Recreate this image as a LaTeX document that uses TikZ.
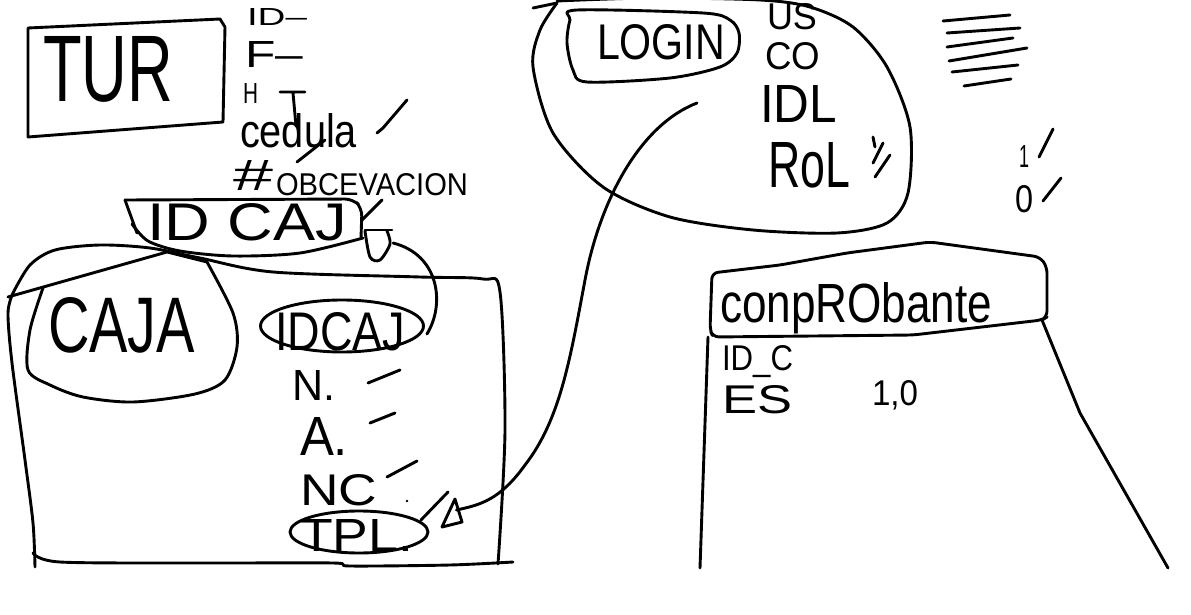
\documentclass[tikz,border=0pt]{standalone}
\usepackage{fontspec}
\setmainfont{Liberation Sans}
\usepackage{graphicx}
\usetikzlibrary{shapes.geometric}
\newcommand\hwtext[3]{\resizebox{#1pt}{#2pt}{#3}}
\begin{document}
\begin{tikzpicture}[x=1pt,y=-1pt,
  pen/.style={draw=black, line width=2.9pt, line cap=round, line join=round},
  txt/.style={inner sep=0pt, outer sep=0pt, anchor=base west},
  oval/.style={pen, ellipse, inner sep=0pt}]
\useasboundingbox (0,0) rectangle (1191,615);
\fill[white] (0,0) rectangle (1191,615);

% ---------- TUR ----------
\node[txt] (tur) at (43,102) {\hwtext{130}{65}{TUR}};
\draw[pen] (28,28) -- (220,19) -- (225,27) -- (223,122) -- (28,137) -- cycle;
\node[txt] (idf) at (247,26) {\hwtext{60}{17}{ID–}};
\node[txt] (f) at (245,68) {\hwtext{58}{26}{F–}};
\node[txt] (h) at (243,104) {\hwtext{15}{20}{H}};
\draw[pen] (280,92) -- (305,92) (293,93) -- (296,126);
\node[txt] (ced) at (240,148) {\hwtext{117}{34}{cedula}};
\draw[pen] (377,133) -- (383,128) -- (407,100);
\draw[pen] (297,162) -- (325,140);
\node[txt] (hash) at (233,190) {\hwtext{40}{30}{\#}};
\node[txt] (obs) at (276,195) {\hwtext{192}{22}{OBCEVACION}};

% ---------- ID CAJ ----------
\node[txt] (idcaj1) at (147,240) {\hwtext{200}{37}{ID CAJ}};
\draw[pen, rounded corners=8pt] (125,200) -- (353,199) -- (362,208) -- (361,238);
\draw[pen] (125,200) -- (137,233);
\draw[pen] plot[smooth] coordinates {(132,224) (148,241) (180,251) (233,256) (300,253) (363,238)};
\draw[pen] (362,220) -- (382,200);
\draw[pen] (365,230) -- (392,230);
\draw[pen] plot[smooth] coordinates {(365,231) (370,257) (380,260) (390,244) (387,231)};

% ---------- CAJA box ----------
\draw[pen] plot[smooth] coordinates {(13,293) (30,265) (55,250) (100,245) (150,248) (200,258) (273,272) (420,277) (483,279) (500,292) (505,430) (498,564)};
\draw[pen] plot[smooth] coordinates {(13,293) (8,313) (12,363) (25,460) (33,523) (35,567)};
\draw[pen] plot[smooth] coordinates {(33,553) (60,562) (200,563) (333,563) (350,566) (450,565) (513,562)};
\draw[pen] (8,297) -- (167,252) -- (207,262);
\draw[pen] plot[smooth] coordinates {(43,288) (30,330) (28,370) (50,385) (83,397) (133,402) (195,394) (225,380) (237,347) (233,313) (207,262)};
\node[txt] (caja) at (48,352) {\hwtext{147}{55}{CAJA}};

\node[oval, minimum width=163pt, minimum height=52pt] (idcajE) at (342,326) {};
\node[txt] (idcaj2) at (275,350) {\hwtext{130}{38}{IDCAJ}};
\node[txt] (n) at (292,400) {\hwtext{43}{30}{N.}};
\draw[pen] (368,383) -- (400,370);
\node[txt] (a) at (300,455) {\hwtext{48}{38}{A.}};
\draw[pen] (370,423) -- (395,413);
\node[txt] (nc) at (300,505) {\hwtext{77}{31}{NC}};
\draw[pen] (387,477) -- (417,461);
\fill (407,501) circle (1.3pt);
\node[oval, minimum width=138pt, minimum height=42pt] (tplE) at (359,532) {};
\node[txt] (tpl) at (300,551) {\hwtext{113}{32}{TPL.}};

% connector ID CAJ -> IDCAJ
\draw[pen] ([shift={(46,3)}]idcaj1.base east) .. controls (440,255) and (445,305) .. ([shift={(2,8)}]idcajE.east);

% ---------- LOGIN ----------
\draw[pen] plot[smooth cycle] coordinates {(577,10) (703,13) (730,20) (739,33) (737,53) (720,67) (670,78) (587,82) (573,70) (567,43) (570,20)};
\node[txt] (login) at (597,60) {\hwtext{128}{35}{LOGIN}};
\draw[pen] plot[smooth] coordinates {(557,1) (650,-2) (760,0) (810,7) (853,27) (887,67) (910,127) (908,193) (887,223) (837,233) (753,230) (670,217) (603,187) (553,133) (533,67) (540,30) (557,3)};
\draw[pen] (533,8) -- (557,3);
\node[txt] (us) at (767,30) {\hwtext{50}{26}{US}};
\node[txt] (co) at (765,70) {\hwtext{55}{27}{CO}};
\node[txt] (idl) at (760,123) {\hwtext{77}{37}{IDL}};
\node[txt] (rol) at (768,187) {\hwtext{82}{45}{RoL}};
\draw[pen] (873,137) -- (875,147) (883,143) -- (873,163) (890,155) -- (875,177);

% connector IDL -> TPL
\draw[pen] ([shift={(-63,-20)}]idl.base west) .. controls (640,125) and (600,200) .. (585,280)
  .. controls (570,360) and (560,420) .. (525,465)
  .. controls (500,500) and (480,505) .. ([shift={(27,-22)}]tplE.east);
\draw[pen] (455,499) -- (442,527) -- (462,522) -- cycle;
\draw[pen] (421,520) -- (448,492);

% ---------- lines / 1 0 ----------
\draw[pen] (943,21) -- (1010,15) (947,33) -- (1020,28) (947,47) -- (1013,38)
  (949,61) -- (1027,48) (952,72) -- (1018,65) (964,86) -- (1011,79);
\node[txt] (one) at (1019,167) {\hwtext{10}{22}{1}};
\draw[pen] (1039,157) -- (1053,129);
\node[txt] (zero) at (1015,212) {\hwtext{18}{27}{0}};
\draw[pen] (1043,201) -- (1061,178);

% ---------- comprobante ----------
\draw[pen, rounded corners=6pt] (712,273) -- (780,265) -- (847,253) -- (930,242) -- (1040,257) -- (1047,267) -- (1047,317) -- (1042,320) -- (913,335) -- (713,337) -- (710,330) -- cycle;
\node[txt] (comp) at (720,322) {\hwtext{272}{40}{conpRObante}};
\draw[pen] (708,337) -- (700,568);
\draw[pen] (1042,320) -- (1080,413) -- (1168,568);
\node[txt] (idc) at (722,370) {\hwtext{71}{25}{ID\_C}};
\node[txt] (es) at (722,413) {\hwtext{70}{28}{ES}};
\node[txt] (onezero) at (872,405) {\hwtext{46}{25}{1,0}};
\end{tikzpicture}
\end{document}
